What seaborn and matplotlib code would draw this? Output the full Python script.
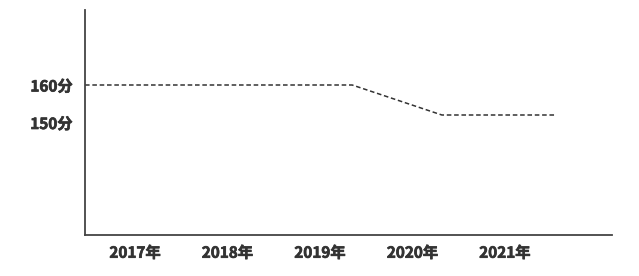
import matplotlib
matplotlib.use("Agg")
import matplotlib.pyplot as plt
import matplotlib.patheffects as pe
import seaborn as sns
import pandas as pd

# Data
years = [2017, 2018, 2019, 2020, 2021]
year_labels = ["2017年", "2018年", "2019年", "2020年", "2021年"]
line_years = [2016.46, 2019.35, 2020.32, 2021.56]
line_scores = [160, 160, 152, 152]
y_ticks = [150, 160]
y_tick_labels = ["150分", "160分"]

sns.set_theme(style="white")
plt.rcParams['font.family'] = ['Noto Sans CJK SC', 'DejaVu Sans']

fig = plt.figure(figsize=(6.39, 2.76), dpi=100)
ax = fig.add_axes([85/639, 1 - 235/276, (612 - 85)/639, (235 - 10)/276])

df = pd.DataFrame({"year": line_years, "score": line_scores})
sns.lineplot(data=df, x="year", y="score", ax=ax, color="#333333",
             linewidth=1.1, linestyle=(0, (3, 1.8)), sort=False)

ax.set_xlim(2016.46, 2022.16)
ax.set_ylim(120, 180)
ax.set_xticks(years)
ax.set_xticklabels(year_labels, fontsize=11, fontweight="bold", color="#333333")
ax.set_yticks(y_ticks)
ax.set_yticklabels(y_tick_labels, fontsize=11, fontweight="bold", color="#333333")
stroke = [pe.withStroke(linewidth=0.5, foreground="#333333")]
for t in ax.get_xticklabels() + ax.get_yticklabels():
    t.set_path_effects(stroke)
ax.tick_params(axis="both", length=0)
ax.tick_params(axis="x", pad=7)
ax.tick_params(axis="y", pad=9)
ax.set_xlabel("")
ax.set_ylabel("")
for s in ["top", "right"]:
    ax.spines[s].set_visible(False)
for s in ["left", "bottom"]:
    ax.spines[s].set_color("#444444")
    ax.spines[s].set_linewidth(1.3)

fig.savefig("out.png", dpi=100)
